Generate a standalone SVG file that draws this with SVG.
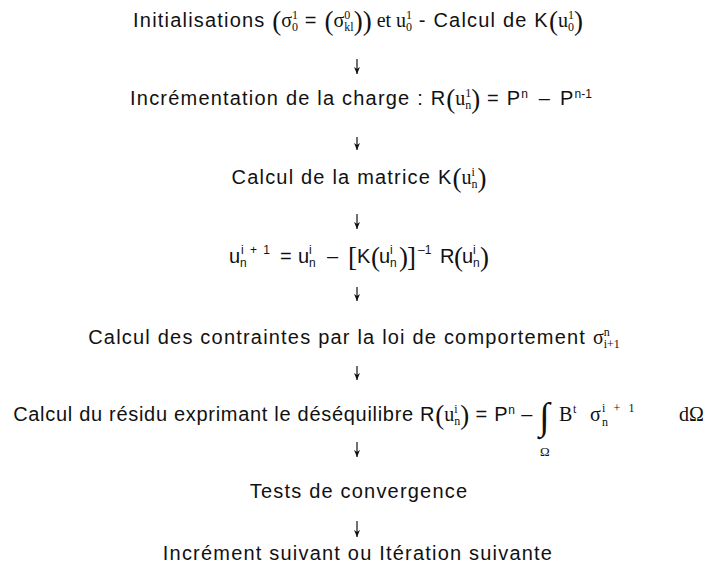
<svg xmlns="http://www.w3.org/2000/svg" width="715" height="567" viewBox="0 0 715 567">
<style>
.t{font-family:"Liberation Sans",Arial,sans-serif;font-size:20px;letter-spacing:1.2px;fill:#111;text-anchor:middle}
.a{text-anchor:start}
.m{font-family:"Liberation Serif","Times New Roman",serif;letter-spacing:0}
.s{font-size:12px;letter-spacing:0}
.w{letter-spacing:1.5px}
.ww{letter-spacing:2.6px}
.bp{font-family:"Liberation Serif","Times New Roman",serif;font-size:27px;letter-spacing:0}
.int{font-family:"Liberation Serif","Times New Roman",serif;font-size:38px;fill:#111}
.om{font-family:"Liberation Serif","Times New Roman",serif;font-size:13px;fill:#111}
.c{stroke:#111;stroke-width:1.2;fill:none;marker-end:url(#ah)}
</style>
<defs>
<marker id="ah" markerUnits="userSpaceOnUse" markerWidth="8" markerHeight="8" refX="7" refY="4" orient="auto" viewBox="0 0 8 8"><path d="M0,1 L7,4 L0,7 L2,4 Z" fill="#111"/></marker>
</defs>
<rect width="715" height="567" fill="#fff"/>
<g id="n1"><text class="t" x="358" y="27">Initialisations <tspan class="bp" dy="3">(</tspan><tspan class="m" dy="-3">σ</tspan><tspan class="m s" dy="4">0</tspan><tspan class="m s" dx="-6" dy="-12">1</tspan><tspan dy="8"> = </tspan><tspan class="bp" dy="3">(</tspan><tspan class="m" dy="-3">σ</tspan><tspan class="m s" dy="-8">0</tspan><tspan class="m s" dx="-6" dy="12">kl</tspan><tspan class="bp" dy="-1">))</tspan><tspan class="m" dy="-3"> et u</tspan><tspan class="m s" dy="4">0</tspan><tspan class="m s" dx="-6" dy="-12">1</tspan><tspan dy="8"> - Calcul de K</tspan><tspan class="bp" dy="3">(</tspan><tspan class="m" dy="-3">u</tspan><tspan class="m s" dy="4">0</tspan><tspan class="m s" dx="-6" dy="-12">1</tspan><tspan class="bp" dy="11">)</tspan></text></g>
<g id="n2"><text class="t" x="361" y="105">Incrémentation de la charge : R<tspan class="bp" dy="3">(</tspan><tspan class="m" dy="-3">u</tspan><tspan class="m s" dy="-8">1</tspan><tspan class="m s" dx="-6" dy="12">n</tspan><tspan class="bp" dy="-1">)</tspan><tspan dy="-3"> = P</tspan><tspan class="s" dy="-7">n</tspan><tspan dx="4" dy="7"> –</tspan><tspan dx="9">P</tspan><tspan class="s" dy="-7">n-1</tspan></text></g>
<g id="n3"><text class="t" x="359" y="184">Calcul de la matrice K<tspan class="bp" dy="3">(</tspan><tspan class="m" dy="-3">u</tspan><tspan class="m s" dy="-8">i</tspan><tspan class="m s" dx="-3.3" dy="12">n</tspan><tspan class="bp" dy="-1">)</tspan></text></g>
<g id="n4"><text class="t a" y="263"><tspan x="229">u</tspan><tspan class="s" x="240" y="267">n</tspan><tspan class="s w" x="241" y="254">i + 1</tspan><tspan x="280" y="263">=</tspan><tspan x="298">u</tspan><tspan class="s" x="309" y="267">n</tspan><tspan class="s" x="309" y="254">i</tspan><tspan x="327" y="263">–</tspan><tspan class="bp" x="348" y="266">[</tspan><tspan x="357" y="263">K</tspan><tspan class="bp" x="371" y="266">(</tspan><tspan x="379" y="263">u</tspan><tspan class="s" x="390" y="267">n</tspan><tspan class="s" x="390" y="254">i</tspan><tspan class="bp" x="399" y="266">)</tspan><tspan class="bp" x="407" y="266">]</tspan><tspan class="s" x="418" y="254">–1</tspan><tspan x="440" y="263">R</tspan><tspan class="bp" x="454" y="266">(</tspan><tspan x="462" y="263">u</tspan><tspan class="s" x="473" y="267">n</tspan><tspan class="s" x="473" y="254">i</tspan><tspan class="bp" x="480" y="266">)</tspan></text></g>
<g id="n5"><text class="t" x="354" y="344">Calcul des contraintes par la loi de comportement <tspan class="m">σ</tspan><tspan class="m s" dy="-8">n</tspan><tspan class="m s" dx="-6" dy="12">i+1</tspan></text></g>
<g id="n6"><text class="t" style="text-anchor:end;letter-spacing:0.7px" x="533" y="421">Calcul du résidu exprimant le déséquilibre R<tspan class="bp" dy="3">(</tspan><tspan class="m" dy="-3">u</tspan><tspan class="m s" dy="-8">i</tspan><tspan class="m s" dx="-3.3" dy="12">n</tspan><tspan class="bp" dy="-1">)</tspan><tspan dy="-3"> = P</tspan><tspan class="s" dy="-7">n</tspan><tspan dy="7"> –</tspan></text><text class="int" x="539" y="429">∫</text><text class="om" x="540" y="456">Ω</text><text class="t a m" y="421"><tspan x="559">B</tspan><tspan class="s" x="573" y="413">t</tspan><tspan x="590" y="421">σ</tspan><tspan class="s" x="602" y="426">n</tspan><tspan class="s ww" x="602" y="412">i + 1</tspan><tspan x="679" y="421">dΩ</tspan></text></g>
<g id="n7"><text class="t" x="359" y="498">Tests de convergence</text></g>
<g id="n8"><text class="t" x="358" y="560">Incrément suivant ou Itération suivante</text></g>
<g id="connectors">
<line class="c" x1="357" y1="59" x2="357" y2="74"/>
<line class="c" x1="357" y1="137" x2="357" y2="150"/>
<line class="c" x1="357" y1="214" x2="357" y2="229"/>
<line class="c" x1="357" y1="287" x2="357" y2="301"/>
<line class="c" x1="357" y1="366" x2="357" y2="380"/>
<line class="c" x1="357" y1="442" x2="357" y2="457"/>
<line class="c" x1="357" y1="521" x2="357" y2="537"/>
</g>
</svg>
